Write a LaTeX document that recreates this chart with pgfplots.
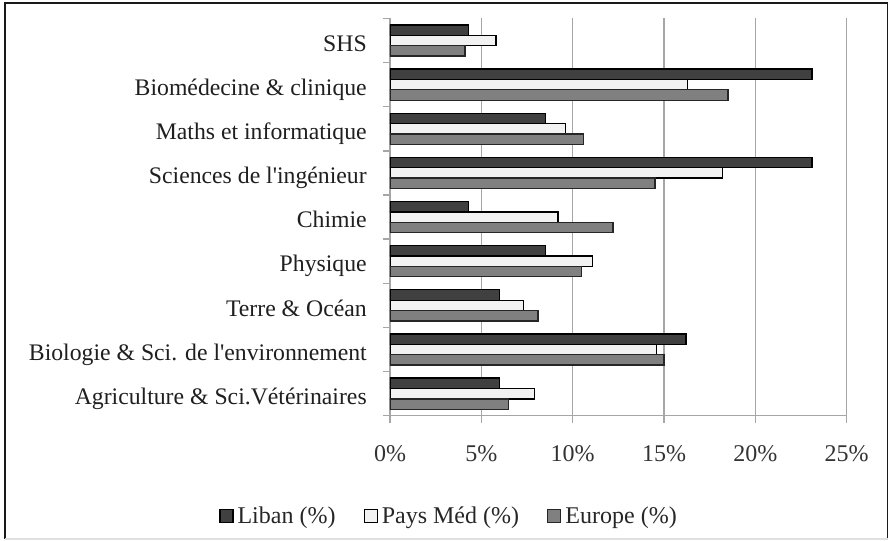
\documentclass[border=0pt]{standalone}
\usepackage{fontspec}
\setmainfont{Liberation Serif}
\usepackage{pgfplots}
\pgfplotsset{compat=1.18}

\definecolor{liban}{HTML}{404040}
\definecolor{paysmed}{HTML}{F2F2F2}
\definecolor{europe}{HTML}{808080}
\definecolor{gridgray}{HTML}{A6A6A6}

\begin{document}
\begin{tikzpicture}
\useasboundingbox (-292.5pt,-93.2pt) rectangle (376.5pt,311.8pt);
\begin{axis}[
    scale only axis,
    width=342.5pt, height=298pt,
    at={(0,0)}, anchor=south west,
    xmin=0, xmax=25,
    ymin=-0.5, ymax=8.5,
    axis x line*=bottom, axis y line*=left,
    axis line style={-, draw=gridgray, line width=1.1pt},
    tick style={draw=gridgray, line width=1.1pt},
    tick align=outside,
    major tick length=5.25pt,
    xtick={0,5,10,15,20,25},
    xticklabels={0\%,5\%,10\%,15\%,20\%,25\%},
    xticklabel style={anchor=base, inner sep=0pt, yshift=-29.4pt,
        font=\fontsize{18}{21}\selectfont, text=black!80},
    ytick={-0.5,0.5,...,8.5},
    yticklabels={},
    extra y ticks={0,1,2,3,4,5,6,7,8},
    extra y tick labels={
        Agriculture \& Sci.Vétérinaires,
        Biologie \& Sci. de l\textquotesingle environnement,
        Terre \& Océan,
        Physique,
        Chimie,
        Sciences de l\textquotesingle ingénieur,
        Maths et informatique,
        Biomédecine \& clinique,
        SHS},
    extra y tick style={major tick length=0pt,
        yticklabel style={anchor=base east, inner sep=0pt, xshift=-17.25pt, yshift=-8pt,
            font=\fontsize{17.8}{21}\selectfont, text=black!88}},
    xmajorgrids,
    major grid style={draw=gridgray, line width=1.1pt},
    legend style={at={(0.1314,-0.2524)}, anchor=center, draw=none, fill=none,
        legend columns=3, font=\fontsize{18}{21}\selectfont, text=black!85,
        inner sep=0pt, nodes={inner xsep=3pt, inner ysep=0pt},
        /tikz/every even column/.append style={column sep=18pt}},
    legend image code/.code={\draw[#1] (0pt,-4.9pt) rectangle (9.75pt,4.9pt);},
]
% rows from bottom (Agriculture) to top (SHS)
\addplot[xbar, bar width=0.235, bar shift=0.235, fill=liban, draw=black, line width=1pt]
    coordinates {(6.0,0) (16.2,1) (6.0,2) (8.5,3) (4.3,4) (23.1,5) (8.5,6) (23.1,7) (4.3,8)};
\addlegendentry{Liban (\%)}
\addplot[xbar, bar width=0.235, bar shift=0, fill=paysmed, draw=black, line width=1pt]
    coordinates {(7.9,0) (14.6,1) (7.3,2) (11.1,3) (9.2,4) (18.2,5) (9.6,6) (16.3,7) (5.8,8)};
\addlegendentry{Pays Méd (\%)}
\addplot[xbar, bar width=0.235, bar shift=-0.235, fill=europe, draw=black!85, line width=1pt]
    coordinates {(6.5,0) (15.0,1) (8.1,2) (10.5,3) (12.2,4) (14.5,5) (10.6,6) (18.5,7) (4.1,8)};
\addlegendentry{Europe (\%)}
\end{axis}
% outer frame
\draw[black!90, line width=1.2pt] (-288.75pt,-92.5pt) -- (-288.75pt,309.5pt) -- (373.2pt,309.5pt) -- (373.2pt,-92.5pt);
\draw[black!12, line width=1pt] (-288.75pt,-92.5pt) -- (373.2pt,-92.5pt);
\end{tikzpicture}
\end{document}
